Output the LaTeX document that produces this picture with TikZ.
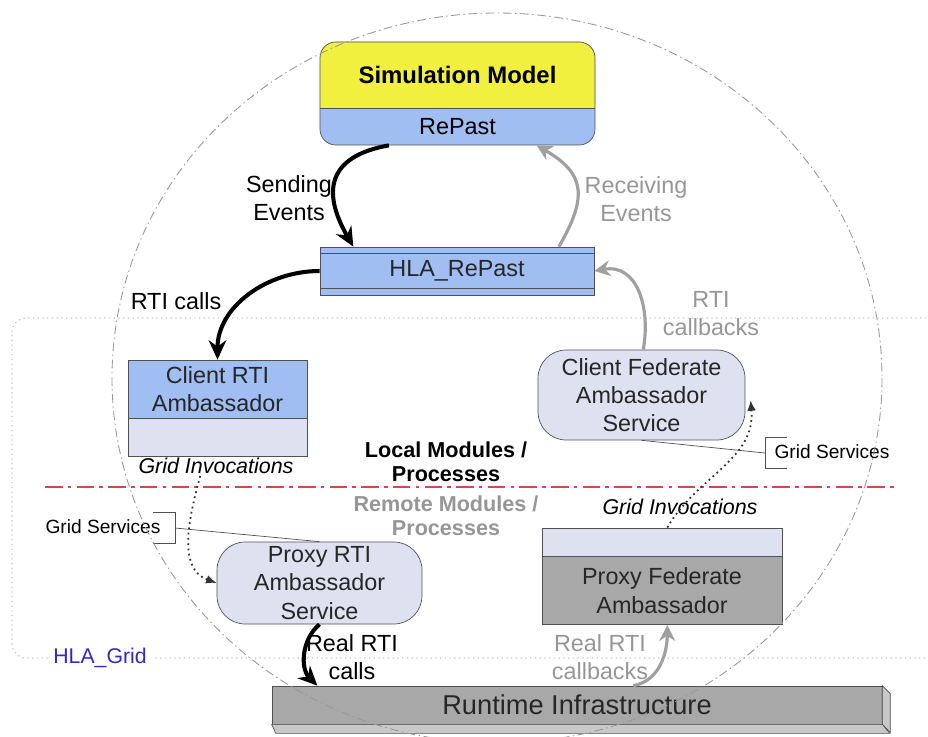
\documentclass[tikz,border=0pt]{standalone}
\usepackage{fontspec}
\setmainfont{Liberation Sans}
\usetikzlibrary{arrows.meta}

\definecolor{simyellow}{RGB}{242,240,62}
\definecolor{repblue}{RGB}{160,190,242}
\definecolor{svclav}{RGB}{222,226,240}
\definecolor{boxgray}{RGB}{168,168,168}
\definecolor{sidegray}{RGB}{200,200,200}
\definecolor{arrgray}{RGB}{160,160,160}
\definecolor{txtgray}{RGB}{150,150,150}
\definecolor{edgegray}{RGB}{80,80,80}
\definecolor{sepred}{RGB}{212,72,72}
\definecolor{gridblue}{RGB}{50,40,200}

\tikzset{
    part/.style={draw=edgegray, inner sep=0pt, align=center, text=black!85,
        font=\fontsize{13.3}{16}\selectfont},
    svc/.style={part, fill=svclav, rounded corners=16pt},
    lbl/.style={align=center, inner sep=1pt, font=\fontsize{13.3}{16}\selectfont},
    modlbl/.style={align=center, inner sep=1pt, font=\fontsize{12.3}{13.6}\selectfont\bfseries},
    invlbl/.style={inner sep=1pt, font=\fontsize{12.2}{14}\selectfont\itshape},
    gslbl/.style={inner sep=1pt, font=\fontsize{10.9}{13}\selectfont},
    sendarr/.style={line width=2.3pt, black, -{Stealth[length=11pt, width=10pt]}},
    recvarr/.style={line width=1.8pt, arrgray, -{Stealth[length=9pt, width=9pt]}},
    dotarr/.style={line width=1pt, black!80, dotted, -{Latex[length=6pt, width=5pt]}},
    ringline/.style={gray!80, line width=0.5pt, dash pattern=on 5pt off 2pt on 0.8pt off 2pt},
    gridline/.style={gray!45, line width=0.7pt, dotted},
    sepline/.style={sepred, line width=1.3pt, dash pattern=on 10pt off 3pt on 2pt off 3pt}
}

\begin{document}
\begin{tikzpicture}[x=0.02cm, y=-0.02cm]
    \useasboundingbox (0,0) rectangle (928,736);

    % HLA_Grid area and local/remote border
    \draw[gridline, rounded corners=8pt] (945,318) -- (12,318) -- (12,658) -- (945,658);
    \node[fill=white, inner sep=3pt, text=gridblue, font=\fontsize{12.1}{14}\selectfont] (grid) at (100,658) {HLA\_Grid};
    \draw[sepline] (45,487) -- (895,487);

    % simulation model
    \fill[repblue, rounded corners=9pt] (320,42) rectangle (595,145);
    \begin{scope}
        \clip (320,42) rectangle (595,108);
        \fill[simyellow, rounded corners=9pt] (320,42) rectangle (595,145);
    \end{scope}
    \draw[edgegray, rounded corners=9pt] (320,42) rectangle (595,145);
    \draw[edgegray] (320,108) -- (595,108);
    \node[lbl, font=\fontsize{13.6}{16}\selectfont\bfseries] (sim) at (457.5,75) {Simulation Model};
    \node[lbl, minimum width=5.5cm, minimum height=0.74cm, inner sep=0pt] (repast) at (457.5,126.5) {RePast};

    \node[part, fill=repblue, minimum width=5.48cm, minimum height=0.96cm] (hlarp) at (457,271) {HLA\_RePast};
    \draw[edgegray] ([yshift=-4pt]hlarp.north west) -- ([yshift=-4pt]hlarp.north east);
    \draw[edgegray] ([yshift=4pt]hlarp.south west) -- ([yshift=4pt]hlarp.south east);

    \node[part, fill=repblue, minimum width=3.58cm, minimum height=1.16cm] (crti) at (217.5,389) {Client RTI\\Ambassador};
    \node[part, fill=svclav, minimum width=3.58cm, minimum height=0.76cm, anchor=north] (crtilow) at (crti.south) {};

    \node[svc, minimum width=4.14cm, minimum height=1.8cm] (cfas) at (641.5,395) {Client Federate\\Ambassador\\Service};
    \node[svc, minimum width=4.1cm, minimum height=1.64cm] (prtis) at (319.5,583) {Proxy RTI\\Ambassador\\Service};

    \node[part, fill=svclav, minimum width=4.8cm, minimum height=0.56cm] (pfatop) at (662,542) {};
    \node[part, fill=boxgray, minimum width=4.8cm, minimum height=1.36cm, anchor=north] (pfa) at (pfatop.south) {Proxy Federate\\Ambassador};

    % runtime infrastructure bar
    \node[part, fill=boxgray, minimum width=12.2cm, minimum height=0.76cm, font=\fontsize{15.5}{18}\selectfont] (rti) at (577,705) {Runtime Infrastructure};
    \draw[edgegray, fill=sidegray] (rti.north east) -- ++(8,8) -- ++(0,39) -- (rti.south east) -- cycle;
    \draw[edgegray, fill=sidegray] (rti.south west) -- ++(4,9) -- ++(614,0) -- (rti.south east) -- cycle;

    % labels
    \node[lbl] (sendlbl) at (289,198) {Sending\\Events};
    \node[lbl, text=txtgray] (recvlbl) at (636,199) {Receiving\\Events};
    \node[lbl] (calllbl) at (176,301) {RTI calls};
    \node[lbl, text=txtgray] (cblbl) at (711,314) {RTI\\callbacks};
    \node[lbl] (realcall) at (352,657) {Real RTI\\calls};
    \node[lbl, text=txtgray] (realcb) at (600,657) {Real RTI\\callbacks};
    \node[invlbl] (invleft) at (216,466) {Grid Invocations};
    \node[invlbl] (invright) at (680,507) {Grid Invocations};
    \node[modlbl] (local) at (446,462) {Local Modules /\\Processes};
    \node[modlbl, text=txtgray] (remote) at (446,516) {Remote Modules /\\Processes};
    \node[gslbl] (gsleft) at (103,527) {Grid Services};
    \node[gslbl] (gsright) at (832,452) {Grid Services};

    % grid services brackets
    \draw[edgegray] (153,512) -- (175,512) -- (175,543) -- (153,543);
    \coordinate (gsleftb) at (175,528);
    \draw[edgegray] (gsleftb) -- (prtis.north);
    \draw[edgegray] (787,437) -- (765,437) -- (765,468) -- (787,468);
    \coordinate (gsrightb) at (765,453);
    \draw[edgegray] (gsrightb) -- (cfas.south);

    % calls and callbacks
    \draw[sendarr] ([xshift=-39pt]repast.south) to[out=190, in=120, looseness=1.5] ([xshift=-59pt]hlarp.north);
    \draw[recvarr] ([xshift=58pt]hlarp.north) to[out=60, in=-30, looseness=1.4] ([xshift=45pt]repast.south);
    \draw[sendarr] (hlarp.west) to[out=180, in=90] (crti.north);
    \draw[recvarr] ([xshift=1pt]cfas.north) to[out=80, in=10, looseness=1.2] (hlarp.east);
    \draw[sendarr] (prtis.south) to[out=220, in=135] ([xshift=26pt]rti.north west);
    \draw[recvarr] ([xshift=32pt]rti.north) to[out=10, in=-90] ([xshift=3pt]pfa.south);

    % grid invocations
    \draw[dotarr] ([xshift=-9pt]invleft.south) to[out=-105, in=160] (prtis.west);
    \draw[dotarr] ([xshift=3pt]pfatop.north) to[out=60, in=-85] ([xshift=3pt, yshift=-3pt]cfas.east);

    \draw[ringline] (497,378) ellipse [x radius=385, y radius=365];
\end{tikzpicture}
\end{document}
